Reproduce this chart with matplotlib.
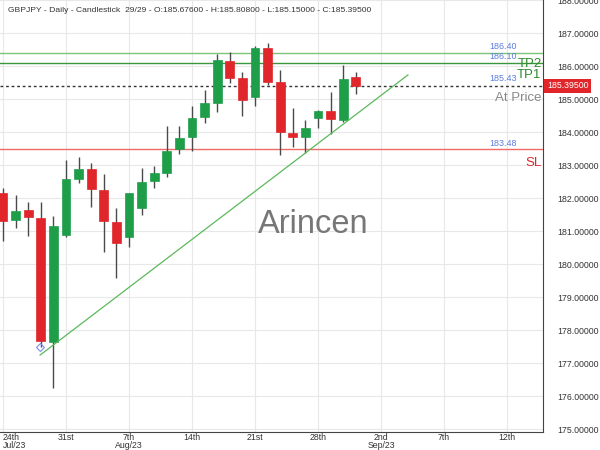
import matplotlib
matplotlib.use("Agg")
import matplotlib.pyplot as plt
from matplotlib.patches import Rectangle

plt.rcParams["font.family"] = ["Liberation Sans", "DejaVu Sans"]

# ---- data ----
opens  = [182.14, 181.32, 181.64, 181.39, 177.65, 180.88, 182.58, 182.87, 182.24, 181.27,
          180.83, 181.70, 182.52, 182.77, 183.48, 183.86, 184.45, 184.89, 186.15, 185.65,
          185.07, 186.54, 185.52, 183.98, 183.86, 184.43, 184.64, 184.36, 185.676]
highs  = [182.29, 182.09, 181.89, 181.89, 181.45, 183.15, 183.23, 183.07, 182.72, 181.70,
          182.16, 182.92, 182.97, 184.18, 184.18, 184.79, 185.27, 186.35, 186.42, 185.82,
          186.62, 186.69, 185.88, 184.72, 184.36, 184.67, 185.22, 186.03, 185.808]
lows   = [180.71, 181.10, 180.85, 177.50, 176.23, 180.83, 182.46, 181.72, 180.37, 179.57,
          180.52, 181.50, 182.29, 182.63, 183.33, 183.43, 184.28, 184.62, 185.49, 184.48,
          184.79, 185.42, 183.30, 183.54, 183.35, 184.11, 183.95, 184.29, 185.15]
closes = [181.31, 181.61, 181.42, 177.67, 181.15, 182.57, 182.87, 182.28, 181.30, 180.63,
          182.14, 182.49, 182.75, 183.43, 183.81, 184.43, 184.87, 186.18, 185.65, 184.97,
          186.55, 185.52, 184.00, 183.84, 184.11, 184.65, 184.40, 185.61, 185.395]

xtick_pos = [0, 5, 10, 15, 20, 25, 30, 35, 40]
xtick_labels = ["24th\nJul/23", "31st", "7th\nAug/23", "14th", "21st", "28th",
                "2nd\nSep/23", "7th", "12th"]
ytick_vals = [175, 176, 177, 178, 179, 180, 181, 182, 183, 184, 185, 186, 187, 188]

tp2 = 186.40
tp1 = 186.10
entry = 185.43
last_price = 185.395
sl = 183.48
trend_x = [2.94, 32.14]
trend_y = [177.24, 185.73]

title = "GBPJPY - Daily - Candlestick  29/29 - O:185.67600 - H:185.80800 - L:185.15000 - C:185.39500"

# ---- figure ----
fig = plt.figure(figsize=(6, 4.5), dpi=100)
ax = fig.add_axes([0.0, 1 - 432 / 450, 543 / 600, 432 / 450])
ax.set_xlim(-0.24, 42.86)
ax.set_ylim(174.91, 188.0)

green = "#1f9e4a"
red = "#e0262b"
wick = "#4a4a4a"
bw = 0.7
for i, (o, h, l, c) in enumerate(zip(opens, highs, lows, closes)):
    col = green if c >= o else red
    ax.plot([i, i], [l, h], color=wick, lw=1.0, zorder=3, solid_capstyle="butt")
    lo, hi = min(o, c), max(o, c)
    ax.add_patch(Rectangle((i - bw / 2, lo), bw, max(hi - lo, 0.03),
                           facecolor=col, edgecolor=col, lw=0.5, zorder=4))

# horizontal levels
ax.axhline(tp2, color="#7cc47c", lw=1.0, zorder=2)
ax.axhline(tp1, color="#3a963a", lw=1.0, zorder=2)
ax.axhline(last_price, color="#333333", lw=1.0, ls=(0, (2, 2)), zorder=2)
ax.axhline(sl, color="#f06a6a", lw=1.0, zorder=2)

# trend line
ax.plot(trend_x, trend_y, color="#5cb85c", lw=0.9, zorder=5)
ax.plot([2.95], [177.5], marker="D", ms=4, mfc="none", mec="#7b8fe8", mew=0.8, zorder=6)

# level labels
lx = 40.8
blue = "#5b7be0"
ax.text(lx, tp2 + 0.04, "186.40", color=blue, fontsize=6.4, ha="right", va="bottom")
ax.text(lx, tp1 + 0.04, "186.10", color=blue, fontsize=6.4, ha="right", va="bottom")
ax.text(lx, entry + 0.04, "185.43", color=blue, fontsize=6.4, ha="right", va="bottom")
ax.text(lx, sl + 0.04, "183.48", color=blue, fontsize=6.4, ha="right", va="bottom")

ax.text(42.75, 186.06, "TP2", color="#2e8b2e", fontsize=9.5, ha="right", va="center")
ax.text(42.75, 185.73, "TP1", color="#2e8b2e", fontsize=9.5, ha="right", va="center")
ax.text(42.75, 185.03, "At Price", color="#888888", fontsize=9.5, ha="right", va="center")
ax.text(42.75, 183.06, "SL", color="#e0262b", fontsize=9.5, ha="right", va="center")

# watermark
ax.text(24.6, 181.2, "Arincen", color="#777777", fontsize=23.5, ha="center", va="center", zorder=1)

# title
ax.text(0.015, 0.975, title, transform=ax.transAxes, fontsize=6.1, color="#333333",
        ha="left", va="center")

# axes styling
ax.set_xticks(xtick_pos)
ax.set_xticklabels(xtick_labels, fontsize=6.3, color="#333333", linespacing=0.85)
lbls = ax.get_xticklabels()
lbls[0].set_horizontalalignment("left")
ax.set_yticks(ytick_vals)
ax.set_yticklabels([f"{v:.5f}" for v in ytick_vals], fontsize=6.3, color="#333333")
ax.yaxis.tick_right()
ax.tick_params(axis="y", length=0, pad=10)
ax.tick_params(axis="x", length=0, pad=1)
ax.grid(True, color="#e8e8e8", lw=0.8, zorder=0)
ax.set_axisbelow(True)
for s in ["top", "left"]:
    ax.spines[s].set_visible(False)
ax.spines["right"].set_color("#444444")
ax.spines["bottom"].set_color("#444444")

# last price box
ax.text(1.0 + 4 / 543, last_price, "185.39500", transform=ax.get_yaxis_transform(),
        fontsize=6.3, color="white", ha="left", va="center",
        bbox=dict(boxstyle="square,pad=0.3", facecolor="#e0262b", edgecolor="none"))

fig.savefig("out.png", dpi=100)
